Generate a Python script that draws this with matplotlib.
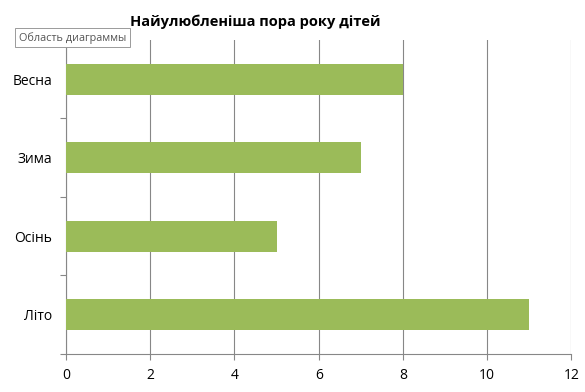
import matplotlib.pyplot as plt
import numpy as np

plt.rcParams['font.family'] = ['Open Sans', 'DejaVu Sans']

seasons = ['Літо', 'Осінь', 'Зима', 'Весна']
counts = [11, 5, 7, 8]
x_ticks = [0, 2, 4, 6, 8, 10, 12]

fig = plt.figure(figsize=(5.85, 3.92), dpi=100)
ax = fig.add_axes([0.1128, 0.097, 0.864, 0.801])

pos = np.arange(len(seasons))
ax.barh(pos, counts, height=0.4, color='#9BBB59', zorder=3)

ax.set_xlim(0, 12)
ax.set_ylim(-0.5, len(seasons) - 0.5)
ax.set_xticks(x_ticks)
ax.set_yticks(pos)
ax.set_yticklabels(seasons)
ax.set_yticks(np.arange(-0.5, len(seasons)), minor=True)

grid_c = '#878787'
ax.xaxis.grid(True, color=grid_c, linewidth=0.8, zorder=0)
for s in ['top', 'right']:
    ax.spines[s].set_visible(False)
for s in ['left', 'bottom']:
    ax.spines[s].set_color(grid_c)
    ax.spines[s].set_linewidth(0.8)

ax.tick_params(axis='y', which='major', length=0, pad=10, labelsize=10)
ax.tick_params(axis='y', which='minor', length=4, color=grid_c, width=0.8)
ax.tick_params(axis='x', length=4, color=grid_c, width=0.8, labelsize=10, pad=6)

fig.text(0.437, 0.945, 'Найулюбленіша пора року дітей', ha='center', va='center',
         fontsize=10.5, fontweight='bold')

# tooltip label with a small shadow
fig.text(0.0325, 0.904, 'Область диаграммы', ha='left', va='center', fontsize=7.8,
         color='#555555',
         bbox=dict(boxstyle='square,pad=0.35', facecolor='white', edgecolor='#9a9a9a',
                   linewidth=0.7))

fig.savefig('out.png', dpi=100)
